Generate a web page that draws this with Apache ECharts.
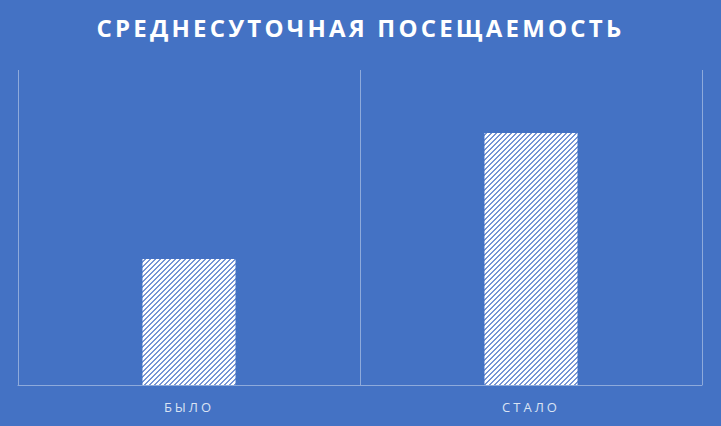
<!DOCTYPE html>
<html><head><meta charset="utf-8">
<script src="https://cdn.jsdelivr.net/npm/echarts@6/dist/echarts.min.js"></script>
<style>
html,body{margin:0;padding:0;background:#4472C4}
#c{width:721px;height:426px}
#c svg text{letter-spacing:3px}
#c svg text[font-weight="bold"], #c svg text[style*="bold"]{letter-spacing:3.2px}
</style>
</head><body><div id="c"></div>
<script>
const titleText = 'СРЕДНЕСУТОЧНАЯ ПОСЕЩАЕМОСТЬ';
const categories = ['БЫЛО', 'СТАЛО'];
const values = [40, 80];

function hatch() {
  const s = 5;
  const cv = document.createElement('canvas');
  cv.width = s; cv.height = s;
  const g = cv.getContext('2d');
  g.fillStyle = '#ffffff';
  g.fillRect(0, 0, s, s);
  g.fillStyle = '#7595d6';
  for (let y = 0; y < s; y++) {
    for (let x = 0; x < s; x++) {
      const k = (x + y) % s;
      if (k === s - 1 || k === s - 2) g.fillRect(x, y, 1, 1);
    }
  }
  return cv;
}

const chart = echarts.init(document.getElementById('c'), null, { renderer: 'svg' });
chart.setOption({
  backgroundColor: '#4472C4',
  animation: false,
  title: {
    text: titleText, left: 'center', top: 10,
    textStyle: { color: '#ffffff', fontFamily: 'Open Sans', fontWeight: 'bold', fontSize: 24 }
  },
  grid: { left: 18, right: 19, top: 70, bottom: 41 },
  xAxis: {
    type: 'category', data: categories,
    axisLine: { lineStyle: { color: '#8eaadb', width: 1 } },
    axisTick: { show: false },
    axisLabel: { color: '#dae3f3', fontFamily: 'Open Sans', fontSize: 13, margin: 15 },
    splitLine: { show: true, lineStyle: { color: '#8eaadb', width: 1 } }
  },
  yAxis: {
    type: 'value', min: 0, max: 100, show: false,
    splitLine: { show: false }
  },
  series: [{
    type: 'bar', data: values, barWidth: 93,
    itemStyle: { color: { image: hatch(), repeat: 'repeat' } }
  }]
});
</script></body></html>
